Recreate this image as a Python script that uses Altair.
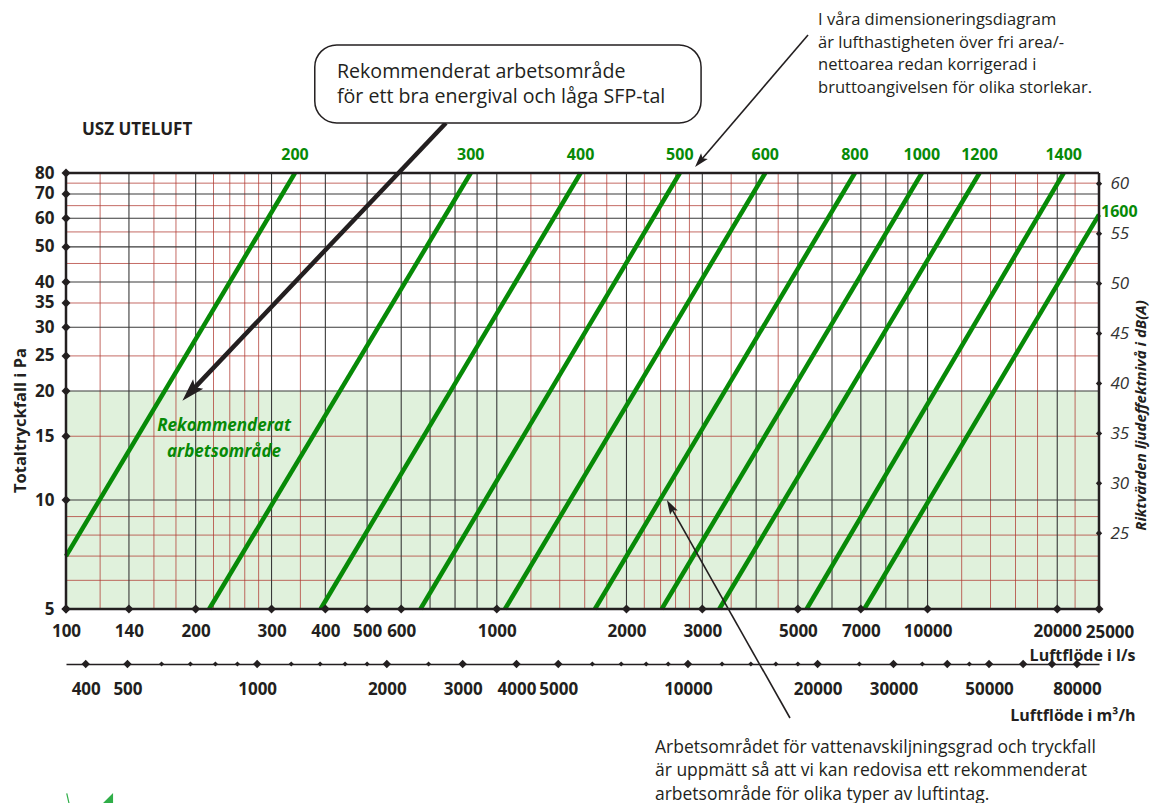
import altair as alt
import pandas as pd

FONT = "Open Sans"
INK = "#231f20"
GREEN = "#078a07"
RED = "#b03a32"
GRID = "#3a3a3a"

# ---------------- data ----------------
SIZES = [200, 300, 400, 500, 600, 800, 1000, 1200, 1400, 1600]
Q_START = [100, 215, 390, 665, 1045, 1690, 2415, 3285, 5240, 7130]
PA_START = [7.0, 5, 5, 5, 5, 5, 5, 5, 5, 5]
Q_END = [340, 870, 1565, 2660, 4200, 6780, 9700, 13200, 20700, 25000]
PA_END = [80, 80, 80, 80, 80, 80, 80, 80, 80, 61.4]

X_BLACK = [140, 200, 300, 400, 500, 600, 700, 800, 900, 1000, 2000, 3000, 4000,
           5000, 6000, 7000, 8000, 9000, 10000, 20000]
X_RED = [120, 160, 180, 220, 240, 260, 280, 350, 1200, 1400, 1600, 1800, 2200,
         2400, 2600, 2800, 3500, 4500, 12000, 14000, 16000, 18000, 22000]
Y_BLACK = [10, 20, 30, 40, 50, 60, 70]
Y_RED = [6, 7, 8, 9, 15, 25, 35, 45, 55, 65, 75]

X_EDGES = [100, 25000]
Y_EDGES = [5, 80]
AREA_PA = [5, 20]

X_TICKS = [100, 140, 200, 300, 400, 500, 600, 1000, 2000, 3000, 5000, 7000, 10000, 20000, 25000]
Y_TICKS = [5, 10, 15, 20, 25, 30, 35, 40, 50, 60, 70, 80]
M3H_BIG = [400, 500, 1000, 2000, 3000, 4000, 5000, 10000, 20000, 30000, 40000,
           50000, 60000, 70000, 80000]
M3H_SMALL = [600, 700, 800, 900, 1200, 1400, 1600, 1800, 2500, 6000, 7000, 8000,
             9000, 12000, 14000, 16000, 18000, 25000, 35000, 45000]
M3H_LABELS = [400, 500, 1000, 2000, 3000, 4000, 5000, 10000, 20000, 30000, 50000, 80000]
DB_TICKS = [25, 30, 35, 40, 45, 50, 55, 60]
DB_DOMAIN = [17.42, 61.07]

# annotations (anchored in data space: l/s, Pa)
TITLE_TXT = ["USZ UTELUFT"]
TITLE_Q, TITLE_PA = [108.9], [105.1]

BOX_Q = [378, 2980]
BOX_PA = [110, 180.6]
BOX_LINES = ["Rekommenderat arbetsområde", "för ett bra energival och låga SFP-tal"]
BOX_LINE_Q = [425.6, 425.6]
BOX_LINE_PA = [152.1, 129.7]

NOTE_TOP = ["I våra dimensioneringsdiagram", "är lufthastigheten över fri area/-",
            "nettoarea redan korrigerad i", "bruttoangivelsen för olika storlekar."]
NOTE_TOP_Q = [5570] * 4
NOTE_TOP_PA = [211.6, 183.4, 159.0, 137.4]

NOTE_BOT = ["Arbetsområdet för vattenavskiljningsgrad och tryckfall",
            "är uppmätt så att vi kan redovisa ett rekommenderat",
            "arbetsområde för olika typer av luftintag."]
NOTE_BOT_Q = [2329] * 3
NOTE_BOT_PA = [2.066, 1.784, 1.532]

ZONE_LINES = ["Rekommenderat", "arbetsområde"]
ZONE_Q = [232.7, 232.7]
ZONE_PA = [16.0, 13.6]

ARROW_NAME = ["box", "top", "bottom"]
ARROW_TAIL_Q = [762, 5278, 4793]
ARROW_TAIL_PA = [109.9, 192.4, 2.5]
ARROW_HEAD_Q = [195.2, 2967, 2535]
ARROW_HEAD_PA = [19.95, 86.4, 9.56]
ARROW_ANGLE = [223.5, 220.5, 330.6]
ARROW_SIZE = [650, 256, 256]
ARROW_WIDTH = [4.5, 1.6, 1.6]

LOGO_TRI_Q, LOGO_TRI_PA = [125.2], [1.503]
LOGO_LINE_Q, LOGO_LINE_PA = [100.4, 101.6], [1.549, 1.456]

W, H = 1033, 436

XS = alt.Scale(type="log", domain=[100, 25000], nice=False)
YS = alt.Scale(type="log", domain=[5, 80], nice=False)
MS = alt.Scale(type="log", domain=[360, 90000], nice=False)
DS = alt.Scale(type="linear", domain=DB_DOMAIN, nice=False, zero=False)


def X(f, axis=None):
    return alt.X(f, type="quantitative", scale=XS, axis=axis)


def Y(f, axis=None):
    return alt.Y(f, type="quantitative", scale=YS, axis=axis)


lab_style = dict(labelFont=FONT, labelFontSize=17, labelFontWeight="bold", labelColor=INK,
                 ticks=False, domain=False, grid=False, labelOverlap=False, labelFlush=False,
                 titleFont=FONT, titleFontWeight="bold", titleColor=INK)

# green recommended area
area = alt.Chart(pd.DataFrame({"q0": [X_EDGES[0]], "q1": [X_EDGES[1]],
                               "p0": [AREA_PA[0]], "p1": [AREA_PA[1]]})).mark_rect(
    color="#e0f1dc").encode(x=X("q0"), x2="q1", y=Y("p0"), y2="p1")

vred = alt.Chart(pd.DataFrame({"q": X_RED})).mark_rule(color=RED, strokeWidth=1, opacity=0.75).encode(x=X("q"))
hred = alt.Chart(pd.DataFrame({"p": Y_RED})).mark_rule(color=RED, strokeWidth=1, opacity=0.75).encode(y=Y("p"))
vblk = alt.Chart(pd.DataFrame({"q": X_BLACK})).mark_rule(color=GRID, strokeWidth=1.1).encode(x=X("q"))
hblk = alt.Chart(pd.DataFrame({"p": Y_BLACK})).mark_rule(color=GRID, strokeWidth=1.1).encode(y=Y("p"))

lines_df = pd.DataFrame({"size": SIZES, "qs": Q_START, "ps": PA_START, "qe": Q_END, "pe": PA_END})
green = alt.Chart(lines_df).mark_rule(color=GREEN, strokeWidth=4.5).encode(
    x=X("qs"), x2="qe", y=Y("ps"), y2="pe")

border_h = alt.Chart(pd.DataFrame({"p": Y_EDGES})).mark_rule(color=INK, strokeWidth=2.5).encode(y=Y("p"))
border_v = alt.Chart(pd.DataFrame({"q": X_EDGES})).mark_rule(color=INK, strokeWidth=2.5).encode(x=X("q"))

diamond = dict(shape="diamond", filled=True, color=INK, opacity=1)

left_axis = alt.Chart(pd.DataFrame({"q": [X_EDGES[0]] * len(Y_TICKS), "p": Y_TICKS})).mark_point(
    size=80, **diamond).encode(
    x=X("q"),
    y=Y("p", axis=alt.Axis(orient="left", values=Y_TICKS, format="d", labelPadding=12,
                           title="Totaltryckfall i Pa", titleFontSize=16.5, titleAngle=270,
                           titleX=-46, titleY=247, titleAlign="center", titleBaseline="middle",
                           **lab_style)))

bottom_axis = alt.Chart(pd.DataFrame({"q": X_TICKS, "p": [Y_EDGES[0]] * len(X_TICKS)})).mark_point(
    size=80, **diamond).encode(
    x=X("q", axis=alt.Axis(orient="bottom", values=X_TICKS[:-1], format="d", labelPadding=14,
                           title="Luftflöde i l/s", titleFontSize=16, titleX=1069, titleY=46,
                           titleAlign="right", titleBaseline="middle", titleAngle=0,
                           **lab_style)),
    y=Y("p"))
# last l/s label sits right of its tick in the reference
last_label = alt.Chart(pd.DataFrame({"q": X_TICKS[-1:], "p": Y_EDGES[:1]})).mark_text(
    font=FONT, fontSize=17, fontWeight="bold", color=INK, dx=11, dy=24, align="center",
    baseline="middle").encode(x=X("q"), y=Y("p"), text=alt.Text("q:Q", format="d"))

m3_style = dict(lab_style)
m3_style["domain"] = True
m3_big = alt.Chart(pd.DataFrame({"m": M3H_BIG})).mark_point(size=70, **diamond).encode(
    x=alt.X("m", type="quantitative", scale=MS,
            axis=alt.Axis(orient="bottom", offset=55, values=M3H_LABELS, format="d",
                          domainColor=INK, domainWidth=1.6, labelPadding=17,
                          title="Luftflöde i m³/h", titleFontSize=16, titleX=1069, titleY=51,
                          titleAlign="right", titleBaseline="middle", titleAngle=0,
                          **m3_style)),
    y=alt.value(H + 55))
m3_small = alt.Chart(pd.DataFrame({"m": M3H_SMALL})).mark_point(size=26, **diamond).encode(
    x=alt.X("m", type="quantitative", scale=MS, axis=None), y=alt.value(H + 55))

db_axis = alt.Chart(pd.DataFrame({"q": [X_EDGES[1]] * len(DB_TICKS), "db": DB_TICKS})).mark_point(
    size=40, **diamond).encode(
    x=X("q"),
    y=alt.Y("db", type="quantitative", scale=DS,
            axis=alt.Axis(orient="right", values=DB_TICKS, ticks=False, domain=False, grid=False,
                          labelFont=FONT, labelFontSize=17, labelFontStyle="italic",
                          labelColor="#333333", labelPadding=11, labelOverlap=False,
                          title="Riktvärden ljudeffektnivå i dB(A)", titleFont=FONT,
                          titleFontSize=15, titleFontWeight="bold", titleFontStyle="italic",
                          titleColor=INK, titleAngle=270, titleX=41, titleY=242,
                          titleAlign="center", titleBaseline="middle")))

size_labels = alt.Chart(lines_df.iloc[:9]).mark_text(
    font=FONT, fontSize=16, fontWeight="bold", color=GREEN, dy=-18, align="center",
    baseline="middle").encode(x=X("qe"), y=Y("pe"), text=alt.Text("size:Q", format="d"))
size_label_last = alt.Chart(lines_df.iloc[9:]).mark_text(
    font=FONT, fontSize=16, fontWeight="bold", color=GREEN, dx=2, dy=-3, align="left",
    baseline="middle").encode(x=X("qe"), y=Y("pe"), text=alt.Text("size:Q", format="d"))

title_txt = alt.Chart(pd.DataFrame({"q": TITLE_Q, "p": TITLE_PA, "t": TITLE_TXT})).mark_text(
    font=FONT, fontSize=17, fontWeight="bold", color=INK, align="left", baseline="middle").encode(
    x=X("q"), y=Y("p"), text="t:N")

box = alt.Chart(pd.DataFrame({"q0": [BOX_Q[0]], "q1": [BOX_Q[1]], "p0": [BOX_PA[0]],
                              "p1": [BOX_PA[1]]})).mark_rect(
    fill="white", stroke=INK, strokeWidth=1.5, cornerRadius=22).encode(
    x=X("q0"), x2="q1", y=Y("p0"), y2="p1")
box_txt = alt.Chart(pd.DataFrame({"q": BOX_LINE_Q, "p": BOX_LINE_PA, "t": BOX_LINES})).mark_text(
    font=FONT, fontSize=19.6, color=INK, align="left", baseline="middle").encode(
    x=X("q"), y=Y("p"), text="t:N")

note_top = alt.Chart(pd.DataFrame({"q": NOTE_TOP_Q, "p": NOTE_TOP_PA, "t": NOTE_TOP})).mark_text(
    font=FONT, fontSize=16.5, color=INK, align="left", baseline="middle").encode(
    x=X("q"), y=Y("p"), text="t:N")
note_bot = alt.Chart(pd.DataFrame({"q": NOTE_BOT_Q, "p": NOTE_BOT_PA, "t": NOTE_BOT})).mark_text(
    font=FONT, fontSize=17.5, color=INK, align="left", baseline="middle").encode(
    x=X("q"), y=Y("p"), text="t:N")

zone_txt = alt.Chart(pd.DataFrame({"q": ZONE_Q, "p": ZONE_PA, "t": ZONE_LINES})).mark_text(
    font=FONT, fontSize=17, fontWeight="bold", fontStyle="italic", color=GREEN, align="center",
    baseline="middle").encode(x=X("q"), y=Y("p"), text="t:N")

arrows_df = pd.DataFrame({"name": ARROW_NAME, "tq": ARROW_TAIL_Q, "tp": ARROW_TAIL_PA,
                          "hq": ARROW_HEAD_Q, "hp": ARROW_HEAD_PA, "ang": ARROW_ANGLE,
                          "sz": ARROW_SIZE, "w": ARROW_WIDTH})
shafts = alt.Chart(arrows_df).mark_rule(color=INK).encode(
    x=X("tq"), x2="hq", y=Y("tp"), y2="hp", strokeWidth=alt.StrokeWidth("w:Q", scale=None))
HEAD = "M0,-1L0.55,0.8L0,0.45L-0.55,0.8Z"
heads = alt.Chart(arrows_df).mark_point(shape=HEAD, filled=True, color=INK, opacity=1).encode(
    x=X("hq"), y=Y("hp"), angle=alt.Angle("ang:Q", scale=None), size=alt.Size("sz:Q", scale=None))

logo_tri = alt.Chart(pd.DataFrame({"q": LOGO_TRI_Q, "p": LOGO_TRI_PA})).mark_point(
    shape="M-1,1L1,-1L1,1Z", filled=True, color="#2fae48", opacity=1, size=100).encode(
    x=X("q"), y=Y("p"))
logo_line = alt.Chart(pd.DataFrame({"q0": LOGO_LINE_Q[:1], "q1": LOGO_LINE_Q[1:],
                                    "p0": LOGO_LINE_PA[:1], "p1": LOGO_LINE_PA[1:]})).mark_rule(
    color="#2fae48", strokeWidth=1.2).encode(x=X("q0"), x2="q1", y=Y("p0"), y2="p1")

chart = alt.layer(
    area, vred, hred, vblk, hblk, green, border_h, border_v,
    left_axis, bottom_axis, last_label, m3_big, m3_small, db_axis,
    size_labels, size_label_last, title_txt, shafts, box, box_txt, heads,
    note_top, note_bot, zone_txt, logo_tri, logo_line,
).resolve_scale(x="independent", y="independent").properties(
    width=W, height=H,
    padding={"left": 58, "top": 165, "right": 52, "bottom": 205},
    autosize=alt.AutoSizeParams(type="none"),
    background="white",
).configure_view(stroke=None)

chart.save("out.html", embed_options={"renderer": "svg", "actions": False})
